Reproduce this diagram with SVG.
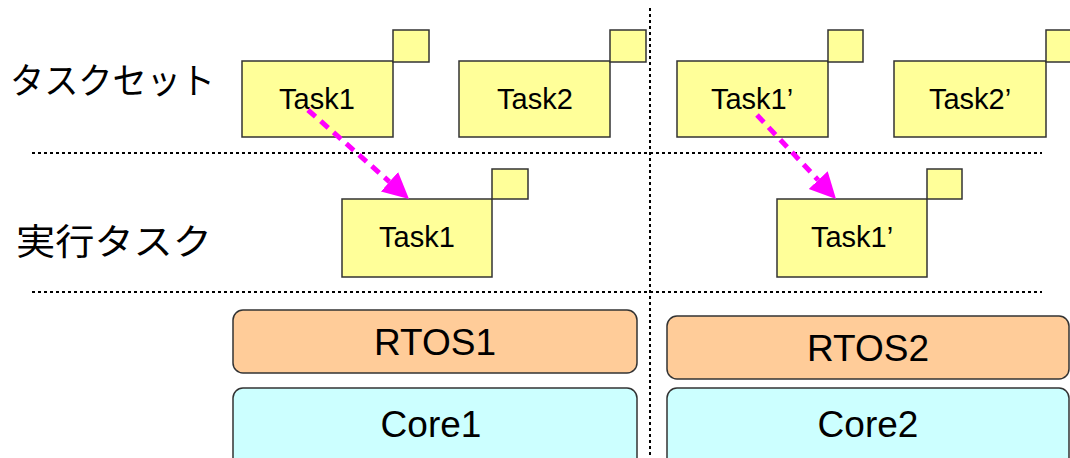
<svg xmlns="http://www.w3.org/2000/svg" width="1070" height="458" viewBox="0 0 1070 458">
<style>
.task{fill:#FFFF99;stroke:#333;stroke-width:1.5}
.tt{font-family:"Liberation Sans",Arial,sans-serif;font-size:29px;fill:#000;text-anchor:middle}
.big{font-family:"Liberation Sans",Arial,sans-serif;font-size:37px;fill:#000;text-anchor:middle}
.jp{font-family:"Noto Sans CJK JP","Noto Sans",sans-serif;font-size:36px;fill:#000}
.rtos{fill:#FFCC99;stroke:#333;stroke-width:1.5}
.core{fill:#CCFFFF;stroke:#333;stroke-width:1.5}
.sep{stroke:#000;stroke-width:2;stroke-dasharray:3,3;fill:none}
.arr{stroke:#FF00FF;stroke-width:5;stroke-dasharray:10,7;fill:none;marker-end:url(#ah)}
</style>
<defs>
<marker id="ah" markerUnits="userSpaceOnUse" markerWidth="28" markerHeight="28" refX="0" refY="13" orient="auto">
<path d="M0,0 L26,13 L0,26 z" fill="#FF00FF"/>
</marker>
</defs>
<g id="separators">
<line class="sep" x1="32" y1="153" x2="1042" y2="153"/>
<line class="sep" x1="32" y1="292" x2="1042" y2="292"/>
<line class="sep" x1="650" y1="8" x2="650" y2="458"/>
</g>
<g id="label-taskset"><text class="jp" x="10" y="94" textLength="205" lengthAdjust="spacingAndGlyphs">タスクセット</text></g>
<g id="label-exec"><text class="jp" x="16" y="255" textLength="196" lengthAdjust="spacingAndGlyphs">実行タスク</text></g>
<g id="task1">
<rect class="task" x="242" y="61" width="151" height="76"/>
<rect class="task" x="393" y="30" width="36" height="32"/>
<text class="tt" x="317" y="109">Task1</text>
</g>
<g id="task2">
<rect class="task" x="459" y="61" width="151" height="76"/>
<rect class="task" x="610" y="30" width="36" height="32"/>
<text class="tt" x="535" y="109">Task2</text>
</g>
<g id="task1p">
<rect class="task" x="677" y="61" width="151" height="76"/>
<rect class="task" x="828" y="30" width="35" height="32"/>
<text class="tt" x="752" y="109">Task1’</text>
</g>
<g id="task2p">
<rect class="task" x="894" y="61" width="152" height="76"/>
<rect class="task" x="1046" y="30" width="36" height="32"/>
<text class="tt" x="970" y="109">Task2’</text>
</g>
<g id="exec-task1">
<rect class="task" x="342" y="199" width="150" height="78"/>
<rect class="task" x="492" y="169" width="36" height="30"/>
<text class="tt" x="417" y="247">Task1</text>
</g>
<g id="exec-task1p">
<rect class="task" x="777" y="199" width="150" height="78"/>
<rect class="task" x="927" y="169" width="35" height="30"/>
<text class="tt" x="852" y="247">Task1’</text>
</g>
<g id="rtos1">
<rect class="rtos" x="233" y="310" width="404" height="63" rx="10"/>
<text class="big" x="435" y="355">RTOS1</text>
</g>
<g id="rtos2">
<rect class="rtos" x="667" y="316" width="402" height="63" rx="10"/>
<text class="big" x="868" y="361">RTOS2</text>
</g>
<g id="core1">
<rect class="core" x="233" y="388" width="404" height="80" rx="10"/>
<text class="big" x="431" y="437">Core1</text>
</g>
<g id="core2">
<rect class="core" x="667" y="388" width="402" height="80" rx="10"/>
<text class="big" x="868" y="437">Core2</text>
</g>
<g id="connectors">
<path class="arr" d="M308,110 L389.5,181.8"/>
<path class="arr" d="M757,115 L818.2,180.1"/>
</g>
</svg>
